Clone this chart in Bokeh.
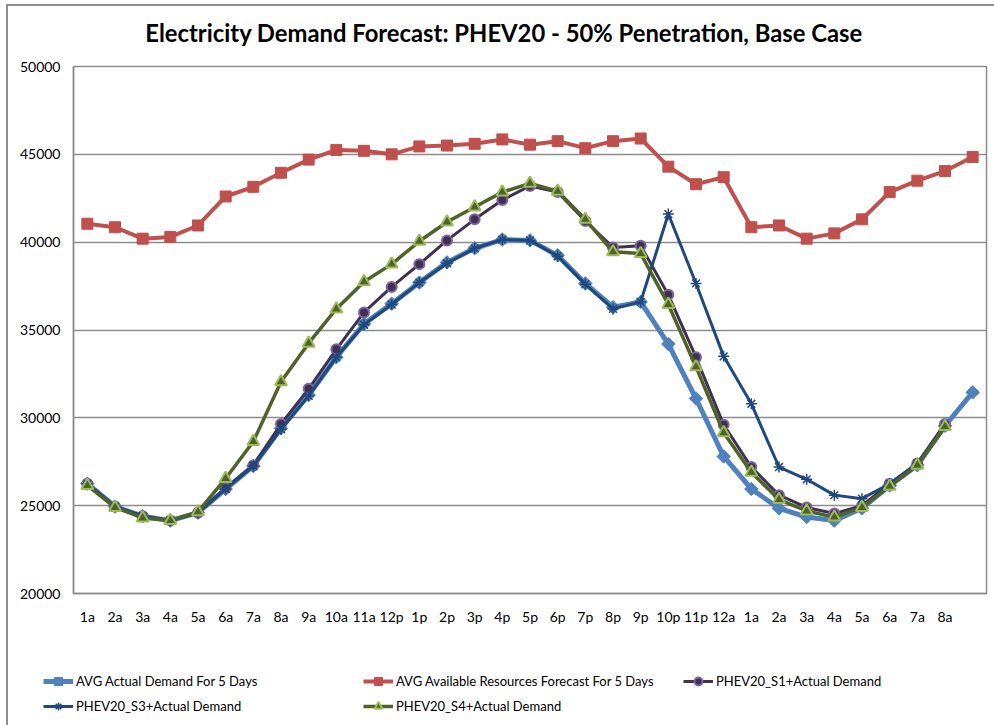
from bokeh.plotting import figure
from bokeh.models import FixedTicker, Legend, LegendItem, Label
from bokeh.embed import file_html
from bokeh.resources import INLINE

chart_title = "Electricity Demand Forecast: PHEV20 - 50% Penetration, Base Case"

hour_labels = ["1a", "2a", "3a", "4a", "5a", "6a", "7a", "8a", "9a", "10a", "11a", "12p",
               "1p", "2p", "3p", "4p", "5p", "6p", "7p", "8p", "9p", "10p", "11p", "12a",
               "1a", "2a", "3a", "4a", "5a", "6a", "7a", "8a"]

avg_actual = [26250, 24950, 24400, 24150, 24600, 25950, 27250, 29400, 31300, 33450, 35350, 36500,
              37700, 38850, 39650, 40150, 40100, 39250, 37650, 36300, 36600, 34200, 31100, 27800,
              25950, 24850, 24350, 24150, 24850, 26150, 27300, 29550, 31450]
avg_resources = [41050, 40850, 40200, 40300, 40950, 42600, 43150, 43950, 44700, 45250, 45200, 45000,
                 45450, 45500, 45600, 45850, 45550, 45750, 45350, 45750, 45900, 44300, 43300, 43700,
                 40850, 40950, 40200, 40500, 41300, 42850, 43500, 44050, 44850]
phev_s1 = [26250, 24950, 24400, 24150, 24600, 26000, 27300, 29650, 31650, 33900, 36000, 37450,
           38750, 40100, 41300, 42400, 43200, 42850, 41200, 39700, 39800, 37000, 33450, 29600,
           27200, 25600, 24900, 24550, 25000, 26250, 27400, 29650]
phev_s3 = [26250, 24950, 24400, 24150, 24600, 25950, 27250, 29350, 31250, 33450, 35300, 36450,
           37700, 38800, 39650, 40150, 40100, 39200, 37600, 36200, 36600, 41600, 37650, 33500,
           30800, 27200, 26500, 25600, 25400, 26250, 27400, 29550]
phev_s4 = [26150, 24900, 24300, 24150, 24650, 26550, 28650, 32050, 34250, 36200, 37750, 38750,
           40050, 41150, 42000, 42850, 43350, 42900, 41300, 39450, 39350, 36450, 32900, 29150,
           26900, 25350, 24700, 24350, 24900, 26100, 27300, 29500]
y_ticks = [20000, 25000, 30000, 35000, 40000, 45000, 50000]

series_names = ["AVG Actual Demand For 5 Days", "AVG Available Resources Forecast For 5 Days",
                "PHEV20_S1+Actual Demand", "PHEV20_S3+Actual Demand", "PHEV20_S4+Actual Demand"]

FONT = "Lato"
GRID = "#8c8c8c"
EDGE = "#8e8e8e"
# outer chart-area border (left + top edge), drawn as the host element's background
BG_LEFT = f"linear-gradient({EDGE},{EDGE}) 6px 0px / 2px 100% no-repeat, white"
BG_TOP = (f"linear-gradient({EDGE},{EDGE}) 6px 4px / 2px 100% no-repeat, "
          f"linear-gradient({EDGE},{EDGE}) 6px 4px / 100% 2px no-repeat, white")

# (line color, line width, marker, marker size, fill, outline, outline width, angle)
styles = [
    ("#4F81BD", 5, "square", 9.5, "#4F81BD", "#4F81BD", 1, 0.785398),
    ("#C0504D", 4, "square", 11, "#C0504D", "#C0504D", 1, 0.0),
    ("#3F3151", 3, "circle", 10, "#3F3151", "#8064A2", 2, 0.0),
    ("#1F497D", 3, "asterisk", 11, "#1F497D", "#1F497D", 1.5, 0.0),
    ("#4F6228", 3.5, "triangle", 12, "#4F6228", "#9BBB59", 2, 0.0),
]
all_series = [avg_actual, avg_resources, phev_s1, phev_s3, phev_s4]

# ---- title strip ----
tt = figure(width=994, height=50, output_backend="svg", toolbar_location=None,
            x_range=(0, 1), y_range=(0, 1), x_axis_location=None, y_axis_location=None,
            min_border_left=0, min_border_right=0, min_border_top=0, min_border_bottom=0)
tt.grid.visible = False
tt.outline_line_color = None
tt.background_fill_color = None
tt.border_fill_color = None
tt.styles = {"background": BG_TOP}
tt.add_layout(Label(x=503.5, y=18, x_units="screen", y_units="screen", text=chart_title,
                    text_align="center", text_baseline="middle", text_font=FONT,
                    text_font_size="23.8px", text_font_style="bold", text_color="black"))

# ---- main chart ----
p = figure(width=994, height=600, output_backend="svg", toolbar_location=None,
           x_range=(-0.5, len(avg_actual) - 0.5), y_range=(20000, 50000),
           min_border_left=73, min_border_right=8, min_border_top=16, min_border_bottom=57)
p.border_fill_color = None
p.background_fill_color = "white"
p.styles = {"background": BG_LEFT}

p.outline_line_color = GRID
p.outline_line_width = 1.5
p.xgrid.visible = False
p.ygrid.grid_line_color = GRID
p.ygrid.grid_line_width = 1.5

p.yaxis.ticker = FixedTicker(ticks=y_ticks)
p.xaxis.ticker = FixedTicker(ticks=list(range(len(hour_labels))))
p.xaxis.major_label_overrides = {i: lab for i, lab in enumerate(hour_labels)}
for ax in (p.xaxis, p.yaxis):
    ax.axis_line_color = GRID
    ax.axis_line_width = 1.5
    ax.major_tick_line_color = None
    ax.minor_tick_line_color = None
    ax.major_tick_out = 0
    ax.major_tick_in = 0
    ax.major_label_text_font = FONT
    ax.major_label_text_font_size = "14px"
    ax.major_label_text_color = "black"
p.xaxis.major_label_standoff = 14
p.yaxis.major_label_standoff = 13

for vals, (lc, lw, mk, ms, fc, oc, ow, ang) in zip(all_series, styles):
    xs = list(range(len(vals)))
    p.line(xs, vals, line_color=lc, line_width=lw, line_join="round")
    p.scatter(xs, vals, marker=mk, size=ms, fill_color=fc, line_color=oc, line_width=ow, angle=ang)

# ---- legend strip ----
lg = figure(width=994, height=75, output_backend="svg", toolbar_location=None,
            x_range=(0, 1), y_range=(0, 1), x_axis_location=None, y_axis_location=None,
            min_border_left=0, min_border_right=0, min_border_top=0, min_border_bottom=0)
lg.grid.visible = False
lg.outline_line_color = None
lg.background_fill_color = None
lg.border_fill_color = None
lg.styles = {"background": BG_LEFT}
nan = float("nan")
items = []
for name, (lc, lw, mk, ms, fc, oc, ow, ang) in zip(series_names, styles):
    r1 = lg.line([nan], [nan], line_color=lc, line_width=lw)
    r2 = lg.scatter([nan], [nan], marker=mk, size=ms, fill_color=fc, line_color=oc,
                    line_width=ow, angle=ang)
    items.append(LegendItem(label=name, renderers=[r1, r2]))

legend = Legend(items=items, location=(43, 9), orientation="horizontal", ncols=3,
                glyph_width=30, glyph_height=20, label_height=20, label_width=282, label_standoff=3,
                spacing=5, padding=0, margin=0, border_line_color=None, background_fill_alpha=0,
                label_text_font=FONT, label_text_font_size="13px", label_text_color="black")
lg.add_layout(legend, "center")

open("out.html", "w").write(file_html([tt, p, lg], INLINE))
